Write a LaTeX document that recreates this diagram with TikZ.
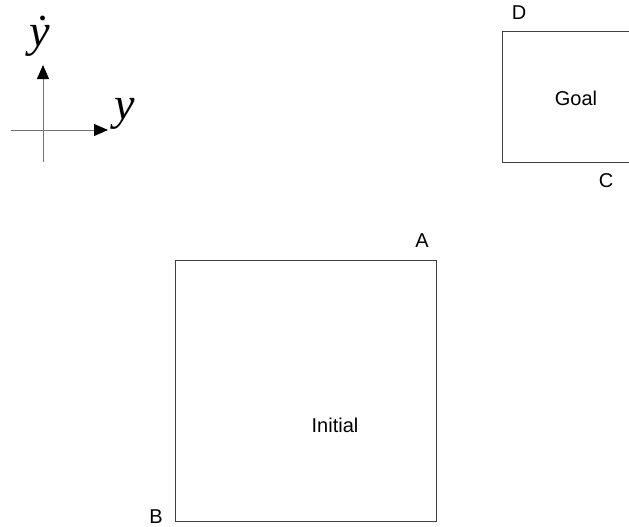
\documentclass[tikz,border=0pt]{standalone}
\usepackage{fontspec}
\setmainfont{Liberation Sans}
\newfontfamily\axisfont{Liberation Serif}
\usetikzlibrary{arrows.meta,positioning}
\tikzset{
  region/.style={draw=black!75, line width=1pt, minimum width=#1, minimum height=#1,
    inner sep=0pt},
  region/.default=130pt,
  corner/.style={font=\fontsize{20}{24}\selectfont, inner sep=0pt},
  axisline/.style={draw=black!55, line width=1pt},
  axisarr/.style={axisline, -{Triangle[length=14pt,width=12pt,fill=black,color=black]}},
  axislabel/.style={font=\axisfont\itshape\fontsize{46}{50}\selectfont, inner sep=0pt},
}
\begin{document}
\begin{tikzpicture}[x=1pt,y=-1pt]
  \useasboundingbox (0,0) rectangle (629,527);

  % phase axes
  \coordinate (vbot) at (43,162);
  \coordinate (vtop) at (43,65);
  \coordinate (hleft) at (11,130);
  \coordinate (hright) at (108,130);
  \draw[axisarr] (vbot) -- (vtop);
  \draw[axisarr] (hleft) -- (hright);
  \node[axislabel] (ydot) at (40,36) {\.{y}};
  \node[axislabel] (yax) at (125,114) {y};

  % goal region
  \node[region] (goal) at (567,97) {};
  \node[corner] (D) at (519,13) {D};
  \node[corner] (C) at (606,181) {C};
  \node[corner] (goallbl) at (576,98) {Goal};

  % initial region
  \node[region=261pt] (init) at (305.5,391) {};
  \node[corner] (A) at (422,241) {A};
  \node[corner] (B) at (156,517) {B};
  \node[corner] (initlbl) at (335,425) {Initial};
\end{tikzpicture}
\end{document}
